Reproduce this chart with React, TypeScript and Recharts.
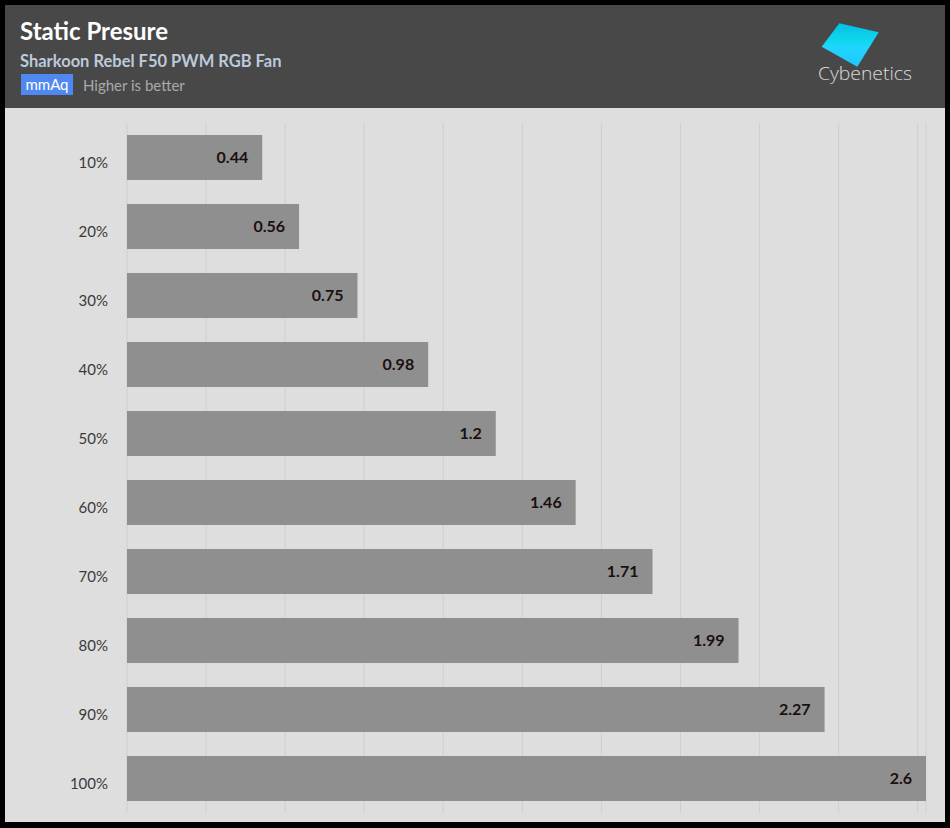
import React from "react";
import { BarChart, Bar, XAxis, YAxis, CartesianGrid, LabelList } from "recharts";

// fan speed steps and measured static pressure (mmAq)
const speeds = ["10%", "20%", "30%", "40%", "50%", "60%", "70%", "80%", "90%", "100%"];
const pressure = [0.44, 0.56, 0.75, 0.98, 1.2, 1.46, 1.71, 1.99, 2.27, 2.6];

// the source draws 10 evenly spaced grid lines that don't sit on round values
const gridStep = 0.2573;
const gridTicks = Array.from({ length: 11 }, (_, i) => +(i * gridStep).toFixed(4));

const rows = speeds.map((speed, i) => ({ speed, value: pressure[i] }));

const FONT = "Lato, 'Open Sans', sans-serif";

function Logo() {
  return (
    <svg width={130} height={100} style={{ position: "absolute", left: 800, top: 5 }}>
      <defs>
        <linearGradient id="logoFill" x1="0" y1="0" x2="0" y2="1">
          <stop offset="0%" stopColor="#00c2e6" />
          <stop offset="45%" stopColor="#13d8f0" />
          <stop offset="55%" stopColor="#22d4ff" />
          <stop offset="100%" stopColor="#1ec8fb" />
        </linearGradient>
        <linearGradient id="logoText" x1="0" y1="0" x2="0" y2="1">
          <stop offset="0%" stopColor="#ffffff" />
          <stop offset="100%" stopColor="#bdbdbd" />
        </linearGradient>
      </defs>
      <polygon points="21.7,41.7 39.3,18.3 78.7,27.3 57.3,61.7" fill="url(#logoFill)" />
      <text
        x={18}
        y={75}
        fill="url(#logoText)"
        fontFamily="'Open Sans', sans-serif"
        fontSize={19}
        fontWeight={300}
        textLength={94}
        lengthAdjust="spacingAndGlyphs"
      >
        Cybenetics
      </text>
    </svg>
  );
}

export default function App() {
  return (
    <div style={{ position: "relative", width: 950, height: 828, background: "#000", fontFamily: FONT }}>
      <style>{"body{margin:0}"}</style>
      <div style={{ position: "absolute", left: 5, top: 5, width: 940, height: 817, background: "#dedede" }} />
      <div style={{ position: "absolute", left: 5, top: 5, width: 940, height: 103, background: "#484848" }} />
      <div style={{ position: "absolute", left: 20, top: 16, color: "#fff", fontWeight: 700, fontSize: 24 }}>
        Static Presure
      </div>
      <div style={{ position: "absolute", left: 20, top: 51, color: "#bccadb", fontWeight: 700, fontSize: 16.5 }}>
        Sharkoon Rebel F50 PWM RGB Fan
      </div>
      <div
        style={{
          position: "absolute",
          left: 21,
          top: 74,
          width: 52,
          height: 21,
          background: "#4f88f0",
          color: "#fff",
          fontSize: 15,
          lineHeight: "21px",
          textAlign: "center",
        }}
      >
        mmAq
      </div>
      <div style={{ position: "absolute", left: 83, top: 75, color: "#aaaaaa", fontSize: 15, lineHeight: "21px" }}>
        Higher is better
      </div>
      <Logo />

      <div style={{ position: "absolute", left: 0, top: 0 }}>
        <BarChart
          width={950}
          height={828}
          data={rows}
          layout="vertical"
          margin={{ top: 123, right: 24, bottom: 15, left: 0 }}
        >
          <CartesianGrid horizontal={false} stroke="#cfcfcf" />
          <XAxis type="number" domain={[0, 2.6]} ticks={gridTicks} hide />
          <YAxis
            type="category"
            dataKey="speed"
            width={127}
            axisLine={false}
            tickLine={false}
            tickSize={0}
            tickMargin={19}
            tick={{ fill: "#3a3a3a", fontSize: 15, fontFamily: FONT, dy: 5 }}
          />
          <Bar dataKey="value" fill="#8f8f8f" barSize={45} isAnimationActive={false}>
            <LabelList
              dataKey="value"
              position="insideRight"
              offset={14}
              fill="#1b0f10"
              fontSize={16}
              fontWeight={700}
              fontFamily={FONT}
            />
          </Bar>
        </BarChart>
      </div>
    </div>
  );
}
